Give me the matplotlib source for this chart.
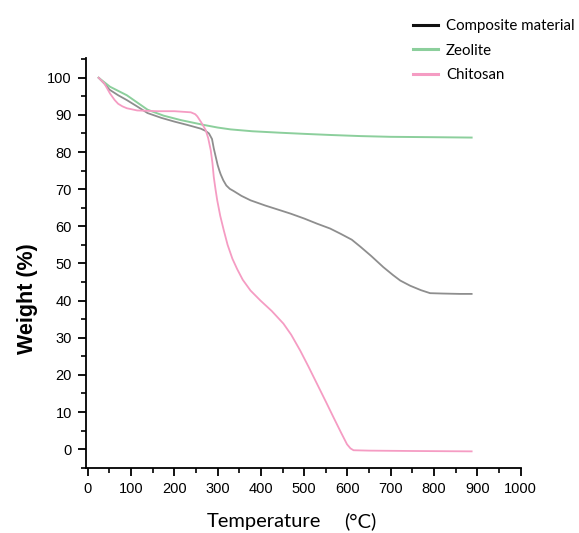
import matplotlib
matplotlib.use("Agg")
import matplotlib.pyplot as plt
from matplotlib.lines import Line2D
from matplotlib.ticker import MultipleLocator

plt.rcParams["font.family"] = ["Liberation Sans", "DejaVu Sans"]

# TGA curves: temperature (°C) vs. remaining weight (%)
composite_t = [25, 40, 50, 70, 90, 115, 138, 170, 200, 230, 261, 272, 280, 287, 291, 296, 300, 304,
               307, 313, 320, 328, 337, 355, 376, 410, 445, 469, 500, 530, 560, 584, 610, 630, 655,
               683, 705, 722, 745, 770, 791, 820, 860, 887]
composite_w = [100, 98.2, 96.8, 95.3, 94.0, 92.2, 90.5, 89.2, 88.2, 87.3, 86.3, 85.7, 85.0, 83.5,
               81.0, 78.5, 76.5, 75.0, 74.0, 72.4, 71.0, 70.1, 69.5, 68.2, 67.0, 65.6, 64.3, 63.4,
               62.1, 60.7, 59.4, 58.0, 56.4, 54.5, 52.0, 49.0, 46.9, 45.4, 44.0, 42.8, 42.0, 41.9,
               41.8, 41.8]

zeolite_t = [25, 51, 90, 138, 175, 215, 268, 300, 330, 380, 445, 500, 560, 630, 700, 800, 887]
zeolite_w = [100, 97.6, 95.3, 91.4, 89.8, 88.6, 87.3, 86.6, 86.1, 85.6, 85.2, 84.9, 84.6, 84.3,
             84.1, 84.0, 83.9]

chitosan_t = [25, 38, 51, 62, 70, 80, 90, 114, 161, 200, 238, 248, 253, 262, 272, 278, 284, 288,
              291, 295, 299, 306, 314, 323, 334, 345, 358, 376, 399, 425, 452, 470, 491, 510, 530,
              550, 568, 585, 599, 607, 614, 650, 750, 887]
chitosan_w = [100, 98.5, 95.8, 94.0, 93.0, 92.3, 91.8, 91.2, 91.0, 91.0, 90.7, 90.2, 89.6, 88.0,
              86.0, 83.8, 80.5, 77.0, 73.3, 70.0, 67.0, 62.8, 59.0, 55.0, 51.3, 48.5, 45.6, 42.7,
              40.0, 37.2, 33.8, 30.8, 26.5, 22.2, 17.5, 12.8, 8.5, 4.5, 1.3, 0.2, -0.3, -0.4,
              -0.5, -0.6]

series_names = ["Composite material", "Zeolite", "Chitosan"]
line_colors = ["#8e8e8e", "#8ccf9c", "#f59cc3"]
legend_colors = ["#111111", "#8ccf9c", "#f59cc3"]

x_ticks = list(range(0, 1001, 100))
y_ticks = list(range(0, 101, 10))

fig = plt.figure(figsize=(5.79, 5.33), dpi=100)
ax = fig.add_axes([0.148, 0.1225, 0.751, 0.7685])

ax.plot(composite_t, composite_w, color=line_colors[0], lw=1.3)
ax.plot(zeolite_t, zeolite_w, color=line_colors[1], lw=1.4)
ax.plot(chitosan_t, chitosan_w, color=line_colors[2], lw=1.3)

ax.set_xlim(-5, 1000)
ax.set_ylim(-5, 105.3)
ax.set_xticks(x_ticks)
ax.set_yticks(y_ticks)
ax.xaxis.set_minor_locator(MultipleLocator(50))
ax.yaxis.set_minor_locator(MultipleLocator(5))

for side in ("top", "right"):
    ax.spines[side].set_visible(False)
for side in ("left", "bottom"):
    ax.spines[side].set_linewidth(1.3)

ax.tick_params(which="major", direction="out", length=6, width=1.3,
               labelsize=10.5, pad=4)
ax.tick_params(which="minor", direction="out", length=3.5, width=1.2)

fig.text(0.047, 0.44, "Weight (%)", rotation=90, ha="center", va="center",
         fontsize=15.5, fontweight="bold")
fig.text(0.455, 0.022, "Temperature", ha="center", va="center",
         fontsize=14.5, family="Lato")
fig.text(0.622, 0.022, "(°C)", ha="center", va="center",
         fontsize=14.5, family="Lato")

handles = [Line2D([], [], color=c, lw=2.2) for c in legend_colors]
leg = fig.legend(handles, series_names, loc="upper left",
                 bbox_to_anchor=(0.69, 0.99), frameon=False,
                 handlelength=1.65, handletextpad=0.55, labelspacing=0.72,
                 prop={"family": "Lato", "size": 10.8})

fig.savefig("out.png", dpi=100)
